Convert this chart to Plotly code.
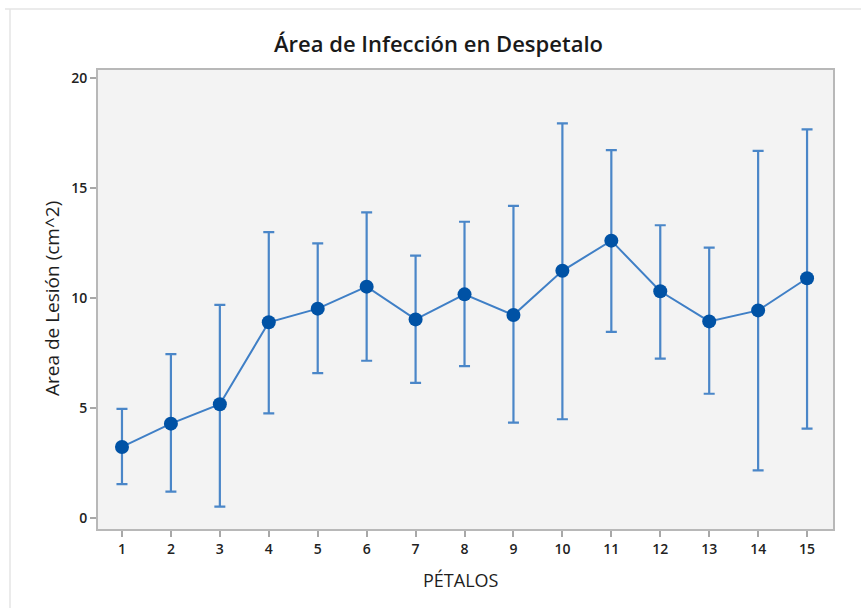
import plotly.graph_objects as go

# Petal count groups and lesion area statistics (cm^2)
petalos = [1, 2, 3, 4, 5, 6, 7, 8, 9, 10, 11, 12, 13, 14, 15]
media = [3.24, 4.30, 5.18, 8.91, 9.53, 10.53, 9.04, 10.18, 9.24, 11.25, 12.62, 10.32, 8.95, 9.45, 10.91]
limite_sup = [4.97, 7.46, 9.70, 13.01, 12.50, 13.91, 11.94, 13.48, 14.20, 17.95, 16.74, 13.32, 12.30, 16.70, 17.68]
limite_inf = [1.55, 1.21, 0.53, 4.77, 6.60, 7.16, 6.15, 6.92, 4.35, 4.50, 8.47, 7.26, 5.66, 2.18, 4.07]
y_ticks = [0, 5, 10, 15, 20]

W, H = 861, 608
L, R, T, B = 98, 833, 70, 529


def px_x(px):
    return (px - L) / (R - L)


def px_y(py):
    return (B - py) / (B - T)


err_plus = [u - m for u, m in zip(limite_sup, media)]
err_minus = [m - d for m, d in zip(media, limite_inf)]

fig = go.Figure()
fig.add_trace(go.Scatter(
    x=petalos,
    y=media,
    mode="lines+markers",
    line=dict(color="#3f7fc6", width=2),
    marker=dict(color="#0052a5", size=14, symbol="circle"),
    error_y=dict(
        type="data",
        symmetric=False,
        array=err_plus,
        arrayminus=err_minus,
        color="#4a86c8",
        thickness=2.2,
        width=5.5,
    ),
    showlegend=False,
    cliponaxis=False,
))

tick_font = dict(family="Open Sans", size=14, color="#222222", weight=600)
fig.update_layout(
    width=W,
    height=H,
    margin=dict(l=L, r=W - R, t=T, b=H - B),
    paper_bgcolor="white",
    plot_bgcolor="#f3f3f3",
    xaxis=dict(
        range=[0.51, 15.53],
        tickmode="array",
        tickvals=petalos,
        ticktext=[str(p) for p in petalos],
        ticks="outside",
        ticklen=6,
        tickwidth=1.5,
        tickcolor="#a8a8a8",
        showline=True,
        mirror=True,
        linecolor="#b8b8b8",
        linewidth=2,
        showgrid=False,
        zeroline=False,
        tickfont=tick_font,
    ),
    yaxis=dict(
        range=[-0.49, 20.38],
        tickmode="array",
        tickvals=y_ticks,
        ticks="outside",
        ticklen=6,
        tickwidth=1.5,
        tickcolor="#a8a8a8",
        showline=True,
        mirror=True,
        linecolor="#b8b8b8",
        linewidth=2,
        showgrid=False,
        zeroline=False,
        tickfont=tick_font,
    ),
    annotations=[
        dict(text="Área de Infección en Despetalo", xref="paper", yref="paper",
             x=px_x(438), y=px_y(43), xanchor="center", yanchor="middle", showarrow=False,
             font=dict(family="Open Sans", size=22, color="#1a1a1a", weight=600)),
        dict(text="Area de Lesión (cm^2)", xref="paper", yref="paper",
             x=px_x(52), y=px_y(298), xanchor="center", yanchor="middle", showarrow=False,
             textangle=-90, font=dict(family="Open Sans", size=19, color="#1e1e1e", weight=500)),
        dict(text="PÉTALOS", xref="paper", yref="paper",
             x=px_x(461), y=px_y(580), xanchor="center", yanchor="middle", showarrow=False,
             font=dict(family="Open Sans", size=18, color="#1e1e1e", weight=500)),
    ],
    shapes=[
        # thin outer frame (top and left edges)
        dict(type="line", xref="paper", yref="paper",
             x0=px_x(5), x1=px_x(861), y0=px_y(9), y1=px_y(9),
             line=dict(color="#e4e4e4", width=1.5)),
        dict(type="line", xref="paper", yref="paper",
             x0=px_x(10), x1=px_x(10), y0=px_y(9), y1=px_y(608),
             line=dict(color="#e4e4e4", width=1.5)),
    ],
)

fig.write_html("out.html")
